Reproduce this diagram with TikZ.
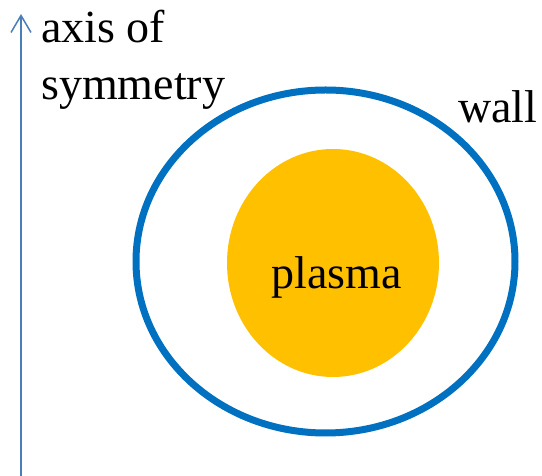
\documentclass[tikz,border=0pt]{standalone}
\usepackage{fontspec}
\setmainfont{Liberation Serif}
\usepackage{xcolor}
\usetikzlibrary{shapes.geometric, arrows.meta, positioning, calc}

\definecolor{wallblue}{HTML}{0070C0}
\definecolor{axisblue}{HTML}{4A7EBB}
\definecolor{plasmaorange}{HTML}{FFC000}

\begin{document}
\begin{tikzpicture}[x=1pt,y=1pt,
  bigtext/.style={font=\fontsize{46}{57}\selectfont, inner sep=0pt}]
  \useasboundingbox (0,0) rectangle (542,476);

  % Axis of symmetry
  \coordinate (axisbot) at (21,0);
  \coordinate (axistop) at (21,462);
  \draw[axisblue,line width=1.8pt,-{Straight Barb[length=17pt,width=20pt,line width=1.5pt]}] (axisbot) -- (axistop);
  \node[bigtext,align=left,anchor=base west] (axislabel) at (41,376) {axis of\\symmetry};

  % Wall and plasma
  \node[ellipse,draw=wallblue,line width=7pt,minimum width=379pt,minimum height=343pt,inner sep=0pt] (wall) at (325.5,214.5) {};
  \node[ellipse,fill=plasmaorange,minimum width=212pt,minimum height=228pt,inner sep=0pt] (plasma) at (333,213) {};

  % Labels
  \node[bigtext,anchor=base] (plasmalabel) at (336.5,187) {plasma};
  \node[bigtext,anchor=base west] (walllabel) at (458,353) {wall};
\end{tikzpicture}
\end{document}
